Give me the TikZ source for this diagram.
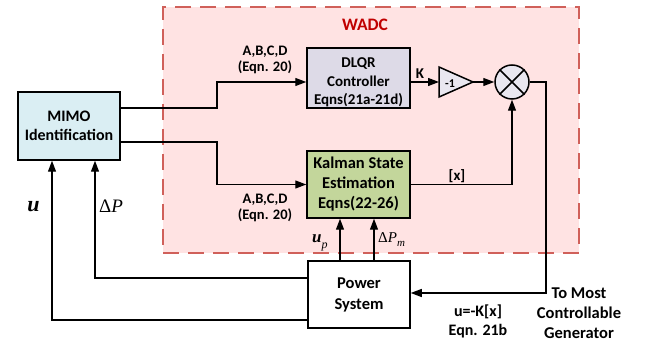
\documentclass[tikz,border=0pt]{standalone}
\usepackage{fontspec}
\setmainfont{Carlito}
\newfontfamily\tms{Liberation Serif}
\usetikzlibrary{arrows.meta,calc}
\definecolor{wadcfill}{HTML}{FFE3E3}
\definecolor{wadcline}{HTML}{D0605A}
\definecolor{wadctext}{HTML}{C00000}
\definecolor{mimofill}{HTML}{DAEEF3}
\definecolor{dlqrfill}{HTML}{DDDAE7}
\definecolor{kalfill}{HTML}{C3D69B}
\definecolor{sumfill}{HTML}{E9E7F0}
\begin{document}
\begin{tikzpicture}[x=1pt,y=-1pt,
  box/.style={draw,line width=1.5pt,align=center,inner sep=0pt},
  arr/.style={line width=1.3pt,-{Triangle[length=11pt,width=8pt]}},
  lbl/.style={font=\bfseries\fontsize{14.5}{16}\selectfont,align=center,inner sep=0pt}]
\useasboundingbox (0,0) rectangle (646,347);
% WADC region
\node[draw=wadcline,fill=wadcfill,dash pattern=on 16pt off 9pt,line width=2pt,
  minimum width=416pt,minimum height=246pt,inner sep=0pt] (wadc) at (371,130) {};
\node[font=\bfseries\fontsize{17.5}{18}\selectfont,text=wadctext] (wadct) at (365,25) {WADC};
% blocks
\node[box,fill=mimofill,minimum width=102pt,minimum height=68pt,
  font=\bfseries\fontsize{16}{19}\selectfont] (mimo) at (69,126) {MIMO\\Identification};
\node[box,fill=dlqrfill,minimum width=103pt,minimum height=60pt] (dlqr) at (358.5,78) {};
\node[align=center,inner sep=0pt,font=\bfseries\fontsize{15}{18.5}\selectfont] (dlqrt) at (358.5,82.5) {DLQR\\Controller\\Eqns(21a-21d)};
\node[box,fill=kalfill,minimum width=103pt,minimum height=67pt,
  font=\bfseries\fontsize{16.5}{20}\selectfont] (kal) at (358.5,184.5) {Kalman State\\Estimation\\Eqns(22-26)};
\node[box,fill=white,minimum width=102pt,minimum height=67pt,
  font=\bfseries\fontsize{16.5}{21}\selectfont] (power) at (359,294.5) {Power\\System};
% summing junction
\node[draw,circle,fill=sumfill,line width=1.5pt,minimum size=34pt,inner sep=0pt] (sum) at (512,82) {};
\draw[line width=1.5pt] (sum.45) -- (sum.225) (sum.135) -- (sum.315);
% gain
\coordinate (gin) at (439,82);
\coordinate (gout) at (473,82);
\draw[line width=1.5pt,fill=sumfill] (439,67) -- (gout) -- (439,97) -- cycle;
\node[font=\bfseries\fontsize{12}{12}\selectfont,inner sep=0pt] (gain) at (450,84) {-1};
% connectors
\coordinate (j1) at (217,108);
\coordinate (j2) at (217,142);
\coordinate (j3) at (95,278);
\coordinate (j4) at (52,320);
\coordinate (k1) at (340,0);
\coordinate (k2) at (374,0);
\coordinate (fb) at (546,293);
\draw[arr] (mimo.east |- j1) -- (j1) |- (dlqr.west |- gin);
\draw[arr] (mimo.east |- j2) -- (j2) |- (kal.west);
\draw[arr] (dlqr.east |- gin) -- (gin);
\draw[arr] (gout) -- (sum.west);
\draw[arr] (kal.east) -| (sum.south);
\draw[arr] (sum.east) -| (fb) -- (fb -| power.east);
\draw[arr] (power.west |- j3) -- (j3) -- (j3 |- mimo.south);
\draw[arr] (power.west |- j4) -- (j4) -- (j4 |- mimo.south);
\draw[arr] (power.north -| k1) -- (kal.south -| k1);
\draw[arr] (power.north -| k2) -- (kal.south -| k2);
% labels
\node[lbl] (abcd1) at (265,60) {A,B,C,D\\(Eqn. 20)};
\node[lbl] (abcd2) at (265,208) {A,B,C,D\\(Eqn. 20)};
\node[font=\bfseries\fontsize{15}{15}\selectfont,inner sep=0pt] (klbl) at (420,74) {K};
\node[font=\bfseries\fontsize{15}{15}\selectfont,inner sep=0pt] (xlbl) at (457,176) {[x]};
\node[font=\bfseries\fontsize{16}{19}\selectfont,align=center,inner sep=0pt] (ulaw) at (478,321.5) {u=-K[x]\\Eqn. 21b};
\node[font=\bfseries\fontsize{16.5}{20}\selectfont,align=center,inner sep=0pt] (gen) at (579,313) {To Most\\Controllable\\Generator};
\node[anchor=base,inner sep=0pt,font=\tms\bfseries\itshape\fontsize{22}{22}\selectfont] (ulbl) at (33.5,212) {u};
\node[anchor=base,inner sep=0pt,font=\tms\fontsize{19}{19}\selectfont] (dplbl) at (111,213) {Δ\textit{P}};
\node[anchor=base west,inner sep=0pt,font=\tms\bfseries\itshape\fontsize{17}{17}\selectfont] (uplbl) at (312,243) {u\raisebox{-6pt}{\mdseries\fontsize{12}{12}\selectfont p}};
\node[anchor=base west,inner sep=0pt,font=\tms\fontsize{15}{15}\selectfont] (dpmlbl) at (378,243) {Δ\textit{P}\raisebox{-4pt}{\fontsize{11}{11}\selectfont\textit{m}}};
\end{tikzpicture}
\end{document}
